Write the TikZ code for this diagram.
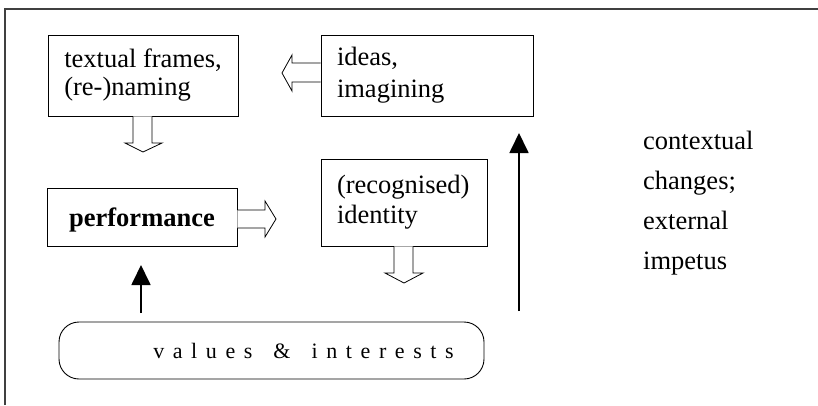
\documentclass[tikz,border=0pt]{standalone}
\usepackage{fontspec}
\setmainfont{Liberation Serif}
\usetikzlibrary{arrows.meta}
\newcommand\gapx{\hspace{8.6pt}}
\begin{document}
\begin{tikzpicture}[x=1pt,y=-1pt,
  box/.style={draw=black,line width=0.9pt,rectangle,inner xsep=16pt,inner ysep=0pt,
    align=left},
  hollow/.style={draw=black,line width=0.8pt,fill=white,line join=miter},
  solidarrow/.style={draw=black,line width=1.8pt,-{Triangle[length=20pt,width=19pt]}},
  frameline/.style={draw=black!75,line width=1.2pt}
]
\useasboundingbox (0,0) rectangle (818,405);
% frame
\draw[frameline] (5,405) -- (5,9) -- (818,9);

% boxes
\node[box,inner xsep=0pt,minimum width=190pt,minimum height=81pt,font=\fontsize{26.5}{28}\selectfont] (tf) at (143,75.5) {textual frames,\\(re-)naming};
\node[box,text width=180pt,minimum height=81pt,font=\fontsize{26.5}{32}\selectfont] (id) at (427,75.5) {ideas,\\imagining};
\node[box,minimum width=190pt,minimum height=58pt,inner xsep=0pt,align=center,text depth=0pt,
  font=\fontsize{26.5}{30}\selectfont\bfseries] (pf) at (142,217) {performance};
\node[box,text width=134pt,minimum height=87pt,font=\fontsize{26.5}{30}\selectfont] (ri) at (404,202.5) {(recognised)\\identity};
\node[draw=black,line width=0.9pt,rounded corners=20pt,minimum width=425pt,minimum height=57pt,inner sep=0pt,
  font=\fontsize{22}{24}\selectfont] (vi) at (271.5,350.5)
  {\hspace*{64pt}v\gapx a\gapx l\gapx u\gapx e\gapx s\hspace{21pt}\&\hspace{21pt}i\gapx n\gapx t\gapx e\gapx r\gapx e\gapx s\gapx t\gapx s};

\node[align=left,anchor=west,inner sep=0pt,font=\fontsize{26.5}{40}\selectfont] (ctx) at (643,203)
  {contextual\\changes;\\external\\impetus};

% hollow arrows
\draw[hollow] (id.west |- 0,63) -- (292,63) -- (292,55) -- (282,73) -- (292,91) -- (292,82) -- (id.west |- 0,82);
\draw[hollow] (133,0 |- tf.south) -- (133,143) -- (125,143) -- (143,152) -- (162,143) -- (152,143) -- (152,0 |- tf.south);
\draw[hollow] (pf.east |- 0,210) -- (265,210) -- (265,201) -- (276,219) -- (265,237) -- (265,228) -- (pf.east |- 0,228);
\draw[hollow] (394,0 |- ri.south) -- (394,273) -- (385,273) -- (404,283) -- (423,273) -- (413,273) -- (413,0 |- ri.south);

% solid arrows
\coordinate (a1s) at (141,313);
\coordinate (a1e) at (141,265);
\coordinate (a2s) at (519,311);
\coordinate (a2e) at (519,133);
\draw[solidarrow] (a1s) -- (a1e);
\draw[solidarrow] (a2s) -- (a2e);
\end{tikzpicture}
\end{document}
